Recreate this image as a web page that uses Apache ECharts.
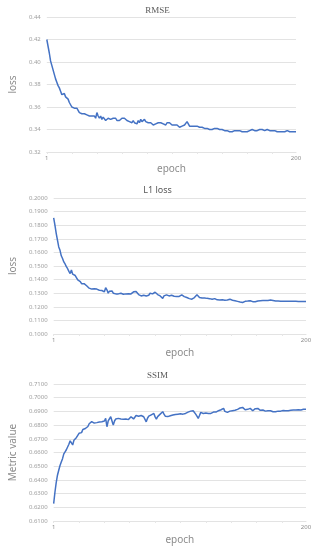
<!DOCTYPE html>
<html>
<head>
<meta charset="utf-8">
<script src="https://cdn.jsdelivr.net/npm/echarts@6/dist/echarts.min.js"></script>
<style>html,body{margin:0;padding:0;background:#fff}#c{width:315px;height:550px}</style>
</head>
<body>
<div id="c"></div>
<script>
var titles = ['RMSE', 'L1 loss', 'SSIM'];
var yNames = ['loss', 'loss', 'Metric value'];
var xName = 'epoch';
var xTickLabels = ['1', '200'];
var rmse = [
0.420,0.414,0.408,0.401,0.397,0.393,0.389,0.385,0.382,0.379,
0.377,0.374,0.371,0.370,0.372,0.369,0.369,0.367,0.364,0.362,
0.360,0.359,0.359,0.360,0.359,0.357,0.355,0.354,0.354,0.353,
0.354,0.353,0.353,0.354,0.352,0.353,0.352,0.351,0.352,0.350,
0.355,0.352,0.350,0.352,0.349,0.351,0.350,0.348,0.349,0.350,
0.349,0.349,0.350,0.350,0.349,0.350,0.348,0.349,0.348,0.349,
0.350,0.349,0.350,0.351,0.348,0.347,0.347,0.347,0.346,0.348,
0.346,0.347,0.345,0.348,0.346,0.349,0.347,0.348,0.349,0.347,
0.348,0.346,0.347,0.346,0.345,0.344,0.343,0.345,0.346,0.346,
0.345,0.346,0.346,0.345,0.345,0.344,0.346,0.345,0.346,0.345,
0.344,0.345,0.344,0.343,0.344,0.343,0.342,0.342,0.343,0.343,
0.344,0.345,0.347,0.345,0.343,0.342,0.343,0.342,0.343,0.342,
0.343,0.342,0.342,0.341,0.342,0.342,0.341,0.342,0.341,0.341,
0.340,0.341,0.340,0.340,0.341,0.340,0.341,0.341,0.340,0.341,
0.340,0.340,0.339,0.340,0.339,0.339,0.338,0.339,0.338,0.338,
0.339,0.340,0.339,0.340,0.339,0.339,0.338,0.339,0.338,0.338,
0.338,0.338,0.339,0.339,0.340,0.339,0.339,0.340,0.339,0.339,
0.340,0.339,0.340,0.340,0.339,0.339,0.340,0.339,0.339,0.339,
0.339,0.338,0.339,0.338,0.338,0.339,0.338,0.338,0.338,0.338,
0.338,0.338,0.339,0.338,0.338,0.338,0.338,0.338,0.338,0.338
];
var l1 = [
0.1854,0.1800,0.1740,0.1690,0.1640,0.1615,0.1575,0.1555,0.1530,0.1515,
0.1495,0.1480,0.1460,0.1445,0.1470,0.1440,0.1445,0.1430,0.1425,0.1398,
0.1390,0.1385,0.1370,0.1368,0.1370,0.1365,0.1355,0.1345,0.1337,0.1335,
0.1330,0.1328,0.1332,0.1325,0.1330,0.1328,0.1322,0.1326,0.1320,0.1318,
0.1310,0.1340,0.1325,0.1300,0.1315,0.1305,0.1317,0.1300,0.1288,0.1295,
0.1300,0.1295,0.1298,0.1300,0.1296,0.1292,0.1298,0.1295,0.1290,0.1296,
0.1300,0.1295,0.1305,0.1310,0.1300,0.1312,0.1298,0.1290,0.1282,0.1280,
0.1278,0.1285,0.1288,0.1280,0.1290,0.1285,0.1300,0.1290,0.1295,0.1300,
0.1307,0.1295,0.1290,0.1285,0.1280,0.1275,0.1262,0.1280,0.1290,0.1288,
0.1285,0.1280,0.1282,0.1285,0.1283,0.1278,0.1280,0.1275,0.1278,0.1276,
0.1280,0.1288,0.1278,0.1275,0.1270,0.1268,0.1262,0.1260,0.1258,0.1256,
0.1260,0.1268,0.1278,0.1288,0.1275,0.1268,0.1264,0.1265,0.1262,0.1265,
0.1260,0.1262,0.1258,0.1260,0.1260,0.1255,0.1258,0.1260,0.1255,0.1251,
0.1255,0.1250,0.1248,0.1252,0.1246,0.1248,0.1252,0.1250,0.1254,0.1256,
0.1250,0.1248,0.1250,0.1245,0.1244,0.1240,0.1238,0.1235,0.1232,0.1232,
0.1236,0.1240,0.1245,0.1242,0.1251,0.1245,0.1240,0.1238,0.1235,0.1237,
0.1240,0.1242,0.1240,0.1244,0.1241,0.1246,0.1244,0.1246,0.1244,0.1247,
0.1245,0.1250,0.1251,0.1246,0.1244,0.1242,0.1240,0.1242,0.1240,0.1241,
0.1242,0.1240,0.1241,0.1240,0.1242,0.1240,0.1239,0.1240,0.1238,0.1240,
0.1239,0.1240,0.1238,0.1239,0.1240,0.1239,0.1238,0.1239,0.1240,0.1239
];
var ssim = [
0.6227,0.6310,0.6380,0.6434,0.6470,0.6505,0.6530,0.6555,0.6590,0.6605,
0.6620,0.6625,0.6660,0.6685,0.6670,0.6655,0.6690,0.6680,0.6710,0.6700,
0.6740,0.6750,0.6745,0.6768,0.6770,0.6775,0.6772,0.6790,0.6810,0.6820,
0.6825,0.6818,0.6815,0.6812,0.6818,0.6815,0.6822,0.6820,0.6824,0.6815,
0.6830,0.6849,0.6788,0.6830,0.6820,0.6861,0.6830,0.6800,0.6830,0.6845,
0.6850,0.6849,0.6840,0.6845,0.6838,0.6842,0.6837,0.6845,0.6850,0.6840,
0.6852,0.6861,0.6850,0.6845,0.6858,0.6870,0.6873,0.6865,0.6858,0.6870,
0.6868,0.6861,0.6860,0.6824,0.6850,0.6865,0.6870,0.6875,0.6880,0.6885,
0.6860,0.6844,0.6862,0.6875,0.6880,0.6890,0.6898,0.6880,0.6865,0.6854,
0.6862,0.6870,0.6868,0.6875,0.6873,0.6870,0.6878,0.6885,0.6880,0.6878,
0.6882,0.6875,0.6880,0.6888,0.6885,0.6885,0.6895,0.6900,0.6902,0.6905,
0.6905,0.6895,0.6880,0.6865,0.6849,0.6870,0.6893,0.6890,0.6885,0.6890,
0.6888,0.6892,0.6885,0.6880,0.6885,0.6890,0.6895,0.6898,0.6895,0.6902,
0.6905,0.6900,0.6912,0.6918,0.6922,0.6900,0.6895,0.6893,0.6898,0.6902,
0.6900,0.6905,0.6910,0.6908,0.6910,0.6915,0.6920,0.6925,0.6928,0.6929,
0.6920,0.6912,0.6905,0.6915,0.6910,0.6922,0.6915,0.6905,0.6915,0.6920,
0.6925,0.6922,0.6912,0.6908,0.6905,0.6910,0.6905,0.6902,0.6908,0.6905,
0.6902,0.6905,0.6900,0.6898,0.6900,0.6898,0.6905,0.6902,0.6898,0.6902,
0.6905,0.6907,0.6903,0.6905,0.6900,0.6905,0.6910,0.6908,0.6905,0.6910,
0.6912,0.6910,0.6908,0.6912,0.6915,0.6910,0.6912,0.6915,0.6913,0.6915
];
var epochs = [];
for (var i = 1; i <= rmse.length; i++) epochs.push(String(i));
var yMin = [0.32, 0.10, 0.61];
var yMax = [0.44, 0.20, 0.71];
var yStep = [0.02, 0.01, 0.01];
var yDecimals = [2, 4, 4];
var seriesData = [rmse, l1, ssim];

var grids = [
  {left: 38, right: 19, top: 17, height: 135},
  {left: 43, right: 9, top: 198, height: 136},
  {left: 43, right: 9, top: 384, height: 137}
];
var titleTops = [1, 181, 366];
var titleFonts = ['"Liberation Serif", serif', '"Noto Sans", sans-serif', '"Liberation Serif", serif'];
var yNameGaps = [26, 31, 32];
var labelColor = '#8c8c8c';
var gridColor = '#e3e3e3';

var option = {
  animation: false,
  backgroundColor: '#fff',
  title: titles.map(function (t, k) {
    return {text: t, left: 'center', top: titleTops[k],
      textStyle: {fontSize: 9, fontWeight: 'normal', color: '#595959', fontFamily: titleFonts[k]}};
  }),
  grid: grids,
  xAxis: grids.map(function (g, k) {
    return {
      type: 'category', gridIndex: k, data: epochs, boundaryGap: false,
      name: xName, nameLocation: 'middle', nameGap: 12 + (k > 0 ? 2 : 0),
      nameTextStyle: {fontSize: 10, color: labelColor, fontFamily: '"Noto Sans", sans-serif'},
      axisLine: {lineStyle: {color: gridColor, width: 1}},
      axisTick: {show: true, interval: 19, length: 2, lineStyle: {color: '#e6e6e6'}},
      axisLabel: {
        interval: function (idx) { return idx === 0 || idx === epochs.length - 1; },
        formatter: function (v, idx) { return idx === 0 ? xTickLabels[0] : xTickLabels[1]; },
        fontSize: 6, color: labelColor, margin: 3, fontFamily: '"Noto Sans", sans-serif'
      },
      splitLine: {show: false}
    };
  }),
  yAxis: grids.map(function (g, k) {
    return {
      type: 'value', gridIndex: k, min: yMin[k], max: yMax[k], interval: yStep[k],
      name: yNames[k], nameLocation: 'middle', nameGap: yNameGaps[k],
      nameTextStyle: {fontSize: 10, color: labelColor, fontFamily: '"Noto Sans", sans-serif'},
      axisLine: {show: false}, axisTick: {show: false},
      axisLabel: {
        formatter: function (v) { return v.toFixed(yDecimals[k]); },
        fontSize: 6, color: '#a0a0a0', margin: 6, fontFamily: '"Noto Sans", sans-serif'
      },
      splitLine: {lineStyle: {color: gridColor, width: 1}}
    };
  }),
  series: seriesData.map(function (d, k) {
    return {type: 'line', xAxisIndex: k, yAxisIndex: k, data: d, showSymbol: false,
      lineStyle: {color: '#4472C4', width: 1.5}, itemStyle: {color: '#4472C4'}};
  })
};
var chart = echarts.init(document.getElementById('c'), null, {renderer: 'canvas'});
chart.setOption(option);
</script>
</body>
</html>
